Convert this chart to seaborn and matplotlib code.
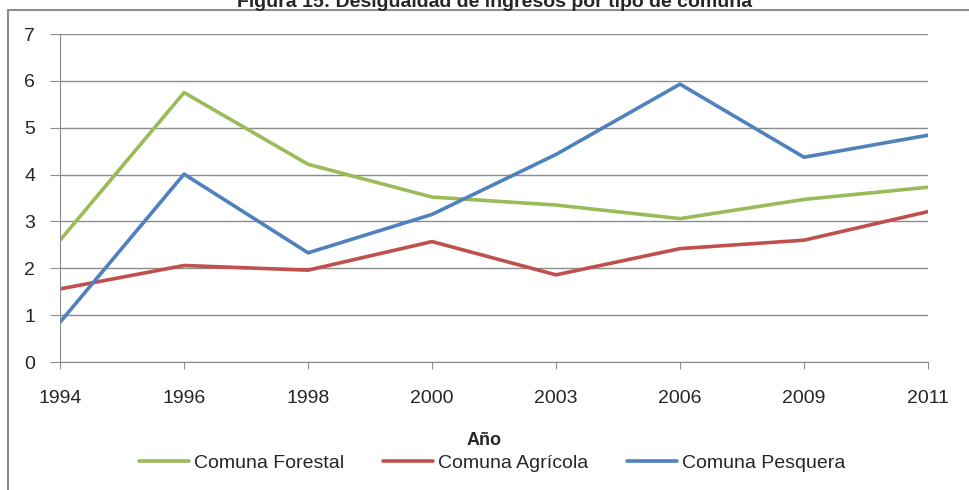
import pandas as pd
import numpy as np
import matplotlib.pyplot as plt
import seaborn as sn
from matplotlib.lines import Line2D

# data
years = ['1994', '1996', '1998', '2000', '2003', '2006', '2009', '2011']
forestal = [2.60, 5.75, 4.22, 3.52, 3.35, 3.06, 3.47, 3.73]
agricola = [1.56, 2.06, 1.96, 2.57, 1.86, 2.42, 2.60, 3.21]
pesquera = [0.85, 4.01, 2.33, 3.15, 4.43, 5.93, 4.37, 4.84]
series_names = ['Comuna Forestal', 'Comuna Agrícola', 'Comuna Pesquera']
colors = ['#9BBB59', '#C0504D', '#4F81BD']

df = pd.DataFrame({
    'Año': years * 3,
    'valor': forestal + agricola + pesquera,
    'serie': [s for s in series_names for _ in years],
})
df['pos'] = df['Año'].map({y: i for i, y in enumerate(years)})

sn.set_style('white')
plt.rcParams['font.family'] = ['Liberation Sans', 'DejaVu Sans']

fig = plt.figure(figsize=(9.69, 4.90), dpi=100)
ax = fig.add_axes([0.062, 0.2612, 0.8957, 0.6694])

sn.lineplot(data=df, x='pos', y='valor', hue='serie', palette=colors,
            hue_order=series_names, linewidth=2.6, ax=ax, legend=False)

ax.set_xlim(0, len(years) - 1)
ax.set_ylim(0, 7)
ax.set_xticks(range(len(years)))
ax.set_xticklabels(years, fontsize=14)
ax.set_yticks(range(0, 8))
ax.set_yticklabels([str(i) for i in range(0, 8)], fontsize=14)
ax.yaxis.grid(True, color='#8c8c8c', linewidth=1)
ax.xaxis.grid(False)
for side in ['top', 'right']:
    ax.spines[side].set_visible(False)
ax.spines['left'].set_color('#8c8c8c')
ax.spines['bottom'].set_color('#8c8c8c')
ax.tick_params(axis='both', direction='out', color='#8c8c8c', bottom=True, left=True)
ax.tick_params(axis='x', length=5, pad=15)
ax.tick_params(axis='y', length=7, pad=11)
ax.set_xlabel('')
ax.set_ylabel('')

fig.text(0.5, 0.102, 'Año', ha='center', va='center', fontsize=13, fontweight='bold')

handles = [Line2D([0], [0], color=c, linewidth=2.6) for c in colors]
fig.legend(handles, series_names, loc='center', bbox_to_anchor=(0.508, 0.055),
           ncol=3, frameon=False, fontsize=14, handlelength=2.57,
           handletextpad=0.25, columnspacing=2.0)

fig.text(0.51, 0.995, 'Figura 15: Desigualdad de ingresos por tipo de comuna',
         ha='center', va='center', fontsize=14, fontweight='bold')

# outer chart frame (top and left edges)
fig.add_artist(Line2D([0.0083, 1.0], [0.9796, 0.9796], color='#8c8c8c', linewidth=1.5))
fig.add_artist(Line2D([0.0083, 0.0083], [0.0, 0.9796], color='#8c8c8c', linewidth=1.5))

plt.savefig('out.png', dpi=100)
